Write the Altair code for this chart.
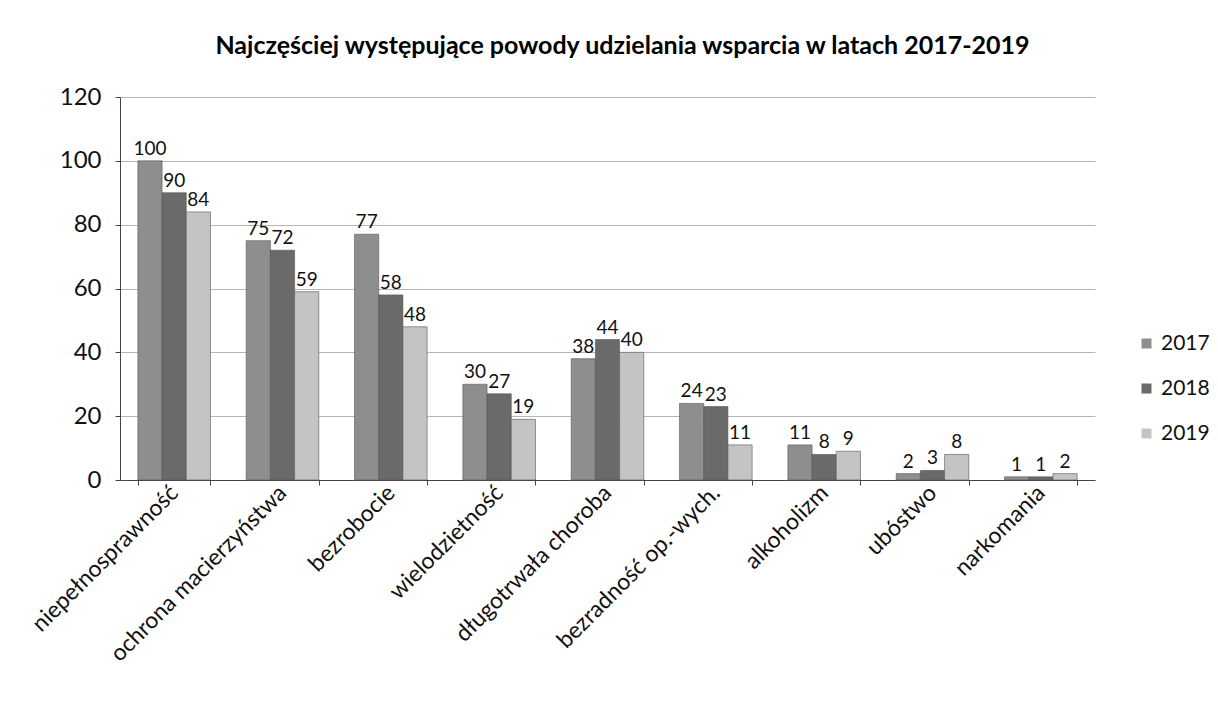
import altair as alt
import pandas as pd

categories = ["niepełnosprawność", "ochrona macierzyństwa", "bezrobocie", "wielodzietność",
              "długotrwała choroba", "bezradność op.-wych.", "alkoholizm", "ubóstwo", "narkomania"]
years = ["2017", "2018", "2019"]
v2017 = [100, 75, 77, 30, 38, 24, 11, 2, 1]
v2018 = [90, 72, 58, 27, 44, 23, 8, 3, 1]
v2019 = [84, 59, 48, 19, 40, 11, 9, 8, 2]

rows = []
for i, c in enumerate(categories):
    for y, vals in zip(years, [v2017, v2018, v2019]):
        rows.append({"kategoria": c, "rok": y, "wartosc": vals[i]})
df = pd.DataFrame(rows)

FONT = "Lato"
TXT = "#111"
color = alt.Color("rok:N", scale=alt.Scale(domain=years, range=["#8e8e8e", "#6a6a6a", "#c4c4c4"]),
                  legend=alt.Legend(title=None, orient="none", legendX=1016, legendY=236,
                                    labelFontSize=21, labelFont=FONT, symbolType="square",
                                    symbolSize=100, rowPadding=23, labelColor=TXT,
                                    labelOffset=4, symbolStrokeWidth=0))

x = alt.X("kategoria:N", sort=categories, title=None,
          scale=alt.Scale(paddingInner=0.33, paddingOuter=0.165),
          axis=alt.Axis(labelAngle=-45, labelAlign="right", labelBaseline="middle",
                        labelFontSize=23, labelFont=FONT, labelColor=TXT, labelPadding=4,
                        tickBand="extent", tickColor="#444", domainColor="#444", tickSize=5,
                        labelLimit=400))
y = alt.Y("wartosc:Q", title=None, scale=alt.Scale(domain=[0, 120]),
          axis=alt.Axis(values=[0, 20, 40, 60, 80, 100, 120], labelFontSize=24, labelFont=FONT,
                        labelColor=TXT, gridColor="#b5b5b5", domainColor="#444",
                        tickColor="#444", tickSize=5, labelPadding=14))

base = alt.Chart(df).encode(x=x, xOffset=alt.XOffset("rok:N", sort=years), y=y)
bars = base.mark_bar(stroke="#555", strokeWidth=0.6).encode(color=color)
labels = base.mark_text(dy=-12, fontSize=19, font=FONT, color=TXT).encode(text="wartosc:Q")

chart = alt.layer(bars, labels).properties(
    width=975, height=383,
    title=alt.TitleParams("Najczęściej występujące powody udzielania wsparcia w latach 2017-2019",
                          fontSize=25, font=FONT, fontWeight="bold", color="#000", offset=26, dx=15),
    autosize=alt.AutoSizeParams(type="none"),
    padding={"left": 112, "top": 89, "right": 115, "bottom": 210},
).configure_view(stroke=None)

chart.save("out.html", embed_options={"renderer": "svg", "actions": False})
